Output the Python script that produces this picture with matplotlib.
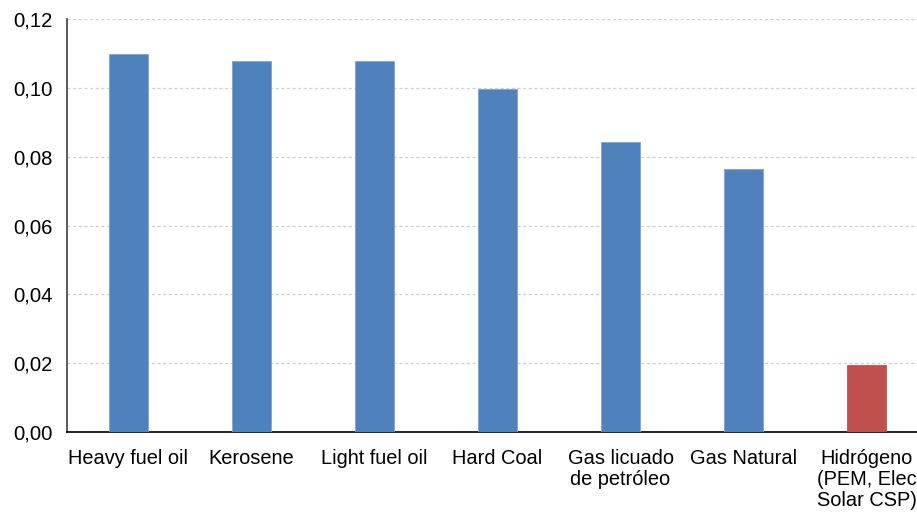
import matplotlib.pyplot as plt
from matplotlib.ticker import FuncFormatter

plt.rcParams['font.family'] = ['Liberation Sans', 'DejaVu Sans']

categories = ['Heavy fuel oil', 'Kerosene', 'Light fuel oil', 'Hard Coal',
              'Gas licuado\nde petróleo', 'Gas Natural',
              'Hidrógeno\n(PEM, Elec\nSolar CSP)']
values = [0.1098, 0.1078, 0.1078, 0.0997, 0.0843, 0.0764, 0.0195]
colors = ['#4F81BD'] * 6 + ['#C0504D']
edges = ['#7FA3D3'] * 6 + ['#C0504D']

fig = plt.figure(figsize=(9.17, 5.12), dpi=100)
ax = fig.add_axes([67 / 917, 80 / 512, 850 / 917, 413 / 512])

x = range(len(categories))
ax.bar(x, values, width=0.31, color=colors, edgecolor=edges, linewidth=0.6, zorder=3)

ax.set_xlim(-0.5, -0.5 + 850 / 123)
ax.set_ylim(0, 0.12)
ax.set_yticks([0, 0.02, 0.04, 0.06, 0.08, 0.10, 0.12])
ax.yaxis.set_major_formatter(FuncFormatter(lambda v, p: f'{v:.2f}'.replace('.', ',')))
ax.set_xticks(list(x))
ax.set_xticklabels(categories, linespacing=1.15, va='top')

ax.tick_params(axis='y', length=0, pad=10.5, labelsize=14.6)
ax.tick_params(axis='x', length=0, pad=12, labelsize=14.4)

ax.grid(axis='y', color='#cfcfcf', linestyle=(0, (2.5, 2)), linewidth=0.9, zorder=0)
for s in ['top', 'right']:
    ax.spines[s].set_visible(False)
ax.spines['left'].set_color('#404040')
ax.spines['bottom'].set_color('black')
ax.spines['left'].set_linewidth(1.2)
ax.spines['bottom'].set_linewidth(1.2)

fig.savefig('out.png', dpi=100)
